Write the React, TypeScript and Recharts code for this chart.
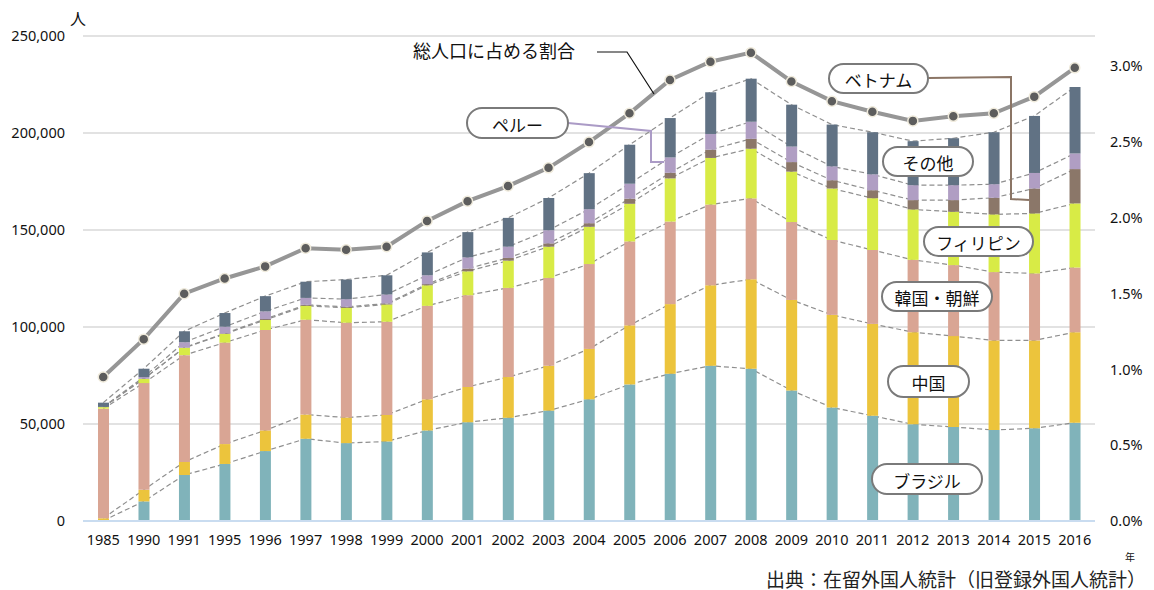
import React from "react";
import { ComposedChart, Bar, Line, XAxis, YAxis, CartesianGrid } from "recharts";

// 年ごとの国籍別外国人数（人）と総人口に占める割合（%）
const years = ["1985", "1990", "1991", "1995", "1996", "1997", "1998", "1999", "2000", "2001", "2002", "2003", "2004", "2005", "2006", "2007", "2008", "2009", "2010", "2011", "2012", "2013", "2014", "2015", "2016"];
const brazil = [200, 10100, 23700, 29400, 36050, 42400, 40150, 41000, 46660, 50900, 53200, 56900, 62700, 70400, 75900, 80000, 78450, 67300, 58550, 54250, 49850, 48450, 46900, 47800, 50650];
const china = [1200, 5950, 6700, 10250, 10650, 12470, 13180, 13700, 16040, 18200, 21000, 23100, 26000, 30450, 35900, 41500, 46150, 46650, 47700, 47350, 47500, 46850, 46200, 45300, 46650];
const korea = [56500, 55050, 55100, 52300, 51750, 48880, 48870, 48000, 48200, 47300, 45950, 45300, 43750, 43250, 42550, 41600, 41700, 40150, 38600, 38100, 37250, 36600, 35200, 34500, 33350];
const philippines = [800, 2100, 3700, 4450, 5150, 7170, 7700, 8900, 10600, 12300, 14050, 16100, 19200, 19400, 22250, 24050, 25600, 26000, 26550, 26700, 26000, 27500, 29750, 30950, 33050];
const vietnam = [0, 200, 200, 300, 500, 500, 500, 500, 600, 1400, 1400, 1700, 1850, 2650, 2900, 4250, 5100, 4900, 4250, 4100, 4800, 6000, 8550, 12850, 17700];
const peru = [100, 800, 2750, 3450, 3950, 3580, 3950, 4650, 4550, 5800, 5800, 6800, 7200, 7700, 7900, 8100, 8800, 8000, 7150, 8200, 7700, 7700, 7000, 8000, 8050];
const other = [2200, 4300, 5650, 7050, 7850, 8350, 10100, 9900, 11800, 13000, 14850, 16600, 18600, 20100, 20300, 21500, 22200, 21600, 21550, 21700, 22700, 24200, 26800, 29400, 34250];
const ratio = [0.95, 1.2, 1.5, 1.6, 1.68, 1.8, 1.79, 1.81, 1.98, 2.11, 2.21, 2.33, 2.5, 2.69, 2.91, 3.03, 3.09, 2.9, 2.77, 2.7, 2.64, 2.67, 2.69, 2.8, 2.99];

const leftTicks = [0, 50000, 100000, 150000, 200000, 250000];
const rightTicks = [0, 0.5, 1, 1.5, 2, 2.5, 3];

const series = [
  { key: "brazil", name: "ブラジル", values: brazil, color: "#80b3ba" },
  { key: "china", name: "中国", values: china, color: "#ecc43c" },
  { key: "korea", name: "韓国・朝鮮", values: korea, color: "#d9a594" },
  { key: "philippines", name: "フィリピン", values: philippines, color: "#d8eb46" },
  { key: "vietnam", name: "ベトナム", values: vietnam, color: "#8b7769" },
  { key: "peru", name: "ペルー", values: peru, color: "#b09ec3" },
  { key: "other", name: "その他", values: other, color: "#617284" },
];

const data = years.map((year, i) => {
  const row: Record<string, number | string> = { year, ratio: ratio[i] };
  let sum = 0;
  series.forEach((s, k) => {
    row[s.key] = s.values[i];
    sum += s.values[i];
    row["cum" + k] = sum;
  });
  return row;
});

const FONT = "'Noto Sans', 'Noto Sans CJK JP', sans-serif";
const JP = "'Noto Sans CJK JP', sans-serif";

function Pill({ x, y, w, h, text }: { x: number; y: number; w: number; h: number; text: string }) {
  return (
    <g>
      <rect x={x} y={y} width={w} height={h} rx={h / 2} fill="#fff" stroke="#7a7a7a" strokeWidth={2} />
      <text x={x + w / 2} y={y + h / 2 + 1} textAnchor="middle" dominantBaseline="central" fontSize={17} fontFamily={JP} fill="#111">
        {text}
      </text>
    </g>
  );
}

export default function App() {
  return (
    <div style={{ position: "absolute", left: 0, top: 0, width: 1154, height: 590, background: "#fff" }}>
      <ComposedChart width={1154} height={590} data={data} margin={{ top: 36, right: 0, left: 0, bottom: 0 }}>
        <CartesianGrid yAxisId="left" vertical={false} stroke="#d9d9d9" strokeWidth={1.5} />
        <XAxis
          dataKey="year"
          interval={0}
          height={69}
          tickLine={false}
          axisLine={{ stroke: "#c9dcf0", strokeWidth: 2 }}
          tickMargin={8}
          tick={{ fontSize: 14.5, fill: "#111", fontFamily: FONT }}
        />
        <YAxis
          yAxisId="left"
          width={83}
          domain={[0, 250000]}
          ticks={leftTicks}
          interval={0}
          axisLine={false}
          tickLine={false}
          tickMargin={12}
          tickFormatter={(v: number) => v.toLocaleString("en-US")}
          tick={{ fontSize: 14.5, fill: "#111", fontFamily: FONT }}
        />
        <YAxis
          yAxisId="right"
          orientation="right"
          width={59}
          domain={[0, 3.2]}
          ticks={rightTicks}
          interval={0}
          axisLine={false}
          tickLine={false}
          tickMargin={9}
          tickFormatter={(v: number) => v.toFixed(1) + "%"}
          tick={{ fontSize: 14.5, fill: "#111", fontFamily: FONT }}
        />
        {series.map((s, k) => (
          <Line
            key={"cum" + k}
            yAxisId="left"
            type="linear"
            dataKey={"cum" + k}
            stroke="#8f8f8f"
            strokeWidth={1.2}
            strokeDasharray="5 3"
            dot={false}
            activeDot={false}
            isAnimationActive={false}
            zIndex={200}
          />
        ))}
        {series.map((s) => (
          <Bar
            key={s.key}
            yAxisId="left"
            dataKey={s.key}
            name={s.name}
            stackId="a"
            fill={s.color}
            barSize={11}
            isAnimationActive={false}
          />
        ))}
        <Line
          yAxisId="right"
          type="linear"
          dataKey="ratio"
          name="総人口に占める割合"
          stroke="#969696"
          strokeWidth={4}
          dot={{ r: 5, fill: "#5d5d5d", stroke: "#efeadb", strokeWidth: 1.5 }}
          activeDot={false}
          isAnimationActive={false}
        />
      </ComposedChart>
      <svg width={1154} height={590} style={{ position: "absolute", left: 0, top: 0, pointerEvents: "none" }}>
        <text x={70} y={18} fontSize={16} fontFamily={JP} dominantBaseline="central" fill="#111">人</text>
        <text x={1125} y={556} fontSize={10} fontFamily={JP} dominantBaseline="central" fill="#111">年</text>
        <text x={1146} y={578} fontSize={19} fontFamily={JP} textAnchor="end" dominantBaseline="central" fill="#222">
          出典：在留外国人統計（旧登録外国人統計）
        </text>
        <text x={413} y={50} fontSize={18} fontFamily={JP} dominantBaseline="central" fill="#111">総人口に占める割合</text>
        <polyline points="597,52 627,52 654,94" fill="none" stroke="#111" strokeWidth={1.2} />
        <polyline points="568,123 651,131 651,162 664,162" fill="none" stroke="#ab9bc6" strokeWidth={2} />
        <polyline points="928,78 1011,77 1011,199 1029,200" fill="none" stroke="#8b7565" strokeWidth={2} />
        <Pill x={467} y={108} w={101} h={30} text="ペルー" />
        <Pill x={829} y={64} w={99} h={29} text="ベトナム" />
        <Pill x={883} y={147} w={90} h={29} text="その他" />
        <Pill x={924} y={227} w={109} h={29} text="フィリピン" />
        <Pill x={882} y={282} w={110} h={29} text="韓国・朝鮮" />
        <Pill x={888} y={366} w={81} h={31} text="中国" />
        <Pill x={872} y={464} w={110} h={30} text="ブラジル" />
      </svg>
    </div>
  );
}
